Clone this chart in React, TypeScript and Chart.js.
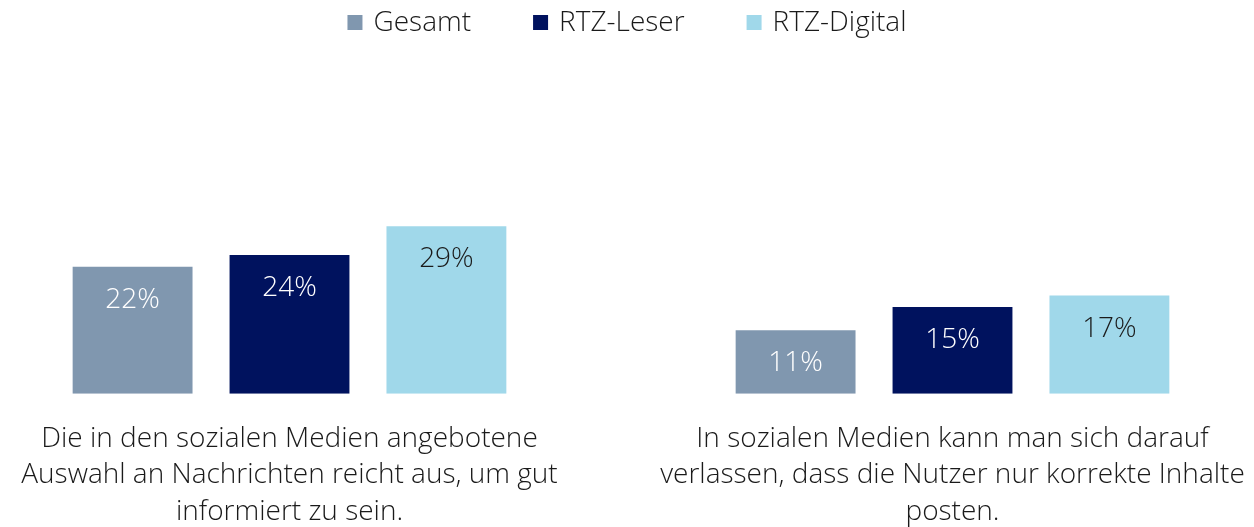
import React, { useEffect, useRef } from "react";
import { Chart, registerables } from "chart.js";

Chart.register(...registerables);

const categories: string[][] = [
  ["Die in den sozialen Medien angebotene", "Auswahl an Nachrichten reicht aus, um gut", "informiert zu sein."],
  ["In sozialen Medien kann man sich darauf", "verlassen, dass die Nutzer nur korrekte Inhalte", "posten."],
];
const seriesNames = ["Gesamt", "RTZ-Leser", "RTZ-Digital"];
const gesamt = [22, 11];
const rtzLeser = [24, 15];
const rtzDigital = [29, 17];
const seriesColors = ["#8097AF", "#00125E", "#A0D8EA"];
const labelColors = ["#FFFFFF", "#FFFFFF", "#1A1A1A"];

const FONT = "'Open Sans', 'Noto Sans', sans-serif";
const SHIFT = 42;
const CANVAS_W = 1326;
const CANVAS_H = 557;

const valueLabels = {
  id: "valueLabels",
  afterDatasetsDraw(chart: any) {
    const ctx = chart.ctx;
    ctx.save();
    ctx.font = `300 28px ${FONT}`;
    ctx.textAlign = "center";
    ctx.textBaseline = "middle";
    chart.data.datasets.forEach((ds: any, i: number) => {
      const meta = chart.getDatasetMeta(i);
      meta.data.forEach((bar: any, j: number) => {
        ctx.fillStyle = labelColors[i];
        ctx.fillText(ds.data[j] + "%", bar.x, bar.y + 33);
      });
    });
    ctx.restore();
  },
};

const topLegend = {
  id: "topLegend",
  afterDraw(chart: any) {
    const ctx = chart.ctx;
    ctx.save();
    ctx.font = `300 28px ${FONT}`;
    ctx.textBaseline = "middle";
    ctx.textAlign = "left";
    const box = 15;
    const gap = 11;
    const spacing = 62;
    const items = chart.data.datasets.map((ds: any) => ({
      text: ds.label,
      color: ds.backgroundColor,
      w: box + gap + ctx.measureText(ds.label).width,
    }));
    const total = items.reduce((s: number, it: any) => s + it.w, 0) + spacing * (items.length - 1);
    let x = SHIFT + 627 - total / 2;
    items.forEach((it: any) => {
      ctx.fillStyle = it.color;
      ctx.fillRect(x, 15, box, box);
      ctx.fillStyle = "#1A1A1A";
      ctx.fillText(it.text, x + box + gap, 23);
      x += it.w + spacing;
    });
    ctx.restore();
  },
};

export default function App() {
  const ref = useRef<HTMLCanvasElement>(null);
  useEffect(() => {
    document.body.style.margin = "0";
    const chart = new Chart(ref.current!, {
      type: "bar",
      data: {
        labels: categories,
        datasets: [gesamt, rtzLeser, rtzDigital].map((d, i) => ({
          label: seriesNames[i],
          data: d,
          backgroundColor: seriesColors[i],
          categoryPercentage: 0.71,
          barPercentage: 0.764,
        })),
      },
      options: {
        animation: false,
        responsive: false,
        layout: { padding: { left: 0, right: 0, top: 47, bottom: 0 } },
        plugins: {
          legend: { display: false },
          tooltip: { enabled: false },
        },
        scales: {
          x: {
            grid: { display: false, drawTicks: false },
            border: { display: false },
            ticks: {
              autoSkip: false,
              maxRotation: 0,
              minRotation: 0,
              padding: 27,
              color: "#1A1A1A",
              font: { family: FONT, size: 28, weight: "300", lineHeight: 1.3 },
            },
          },
          y: {
            display: false,
            min: 0,
            max: 60,
          },
        },
      },
      plugins: [valueLabels, topLegend],
    });
    return () => chart.destroy();
  }, []);
  return (
    <div style={{ width: 1254, height: 527, overflow: "hidden", position: "relative" }}>
      <canvas
        ref={ref}
        width={CANVAS_W}
        height={CANVAS_H}
        style={{ position: "absolute", left: -SHIFT, top: 0 }}
      />
    </div>
  );
}
